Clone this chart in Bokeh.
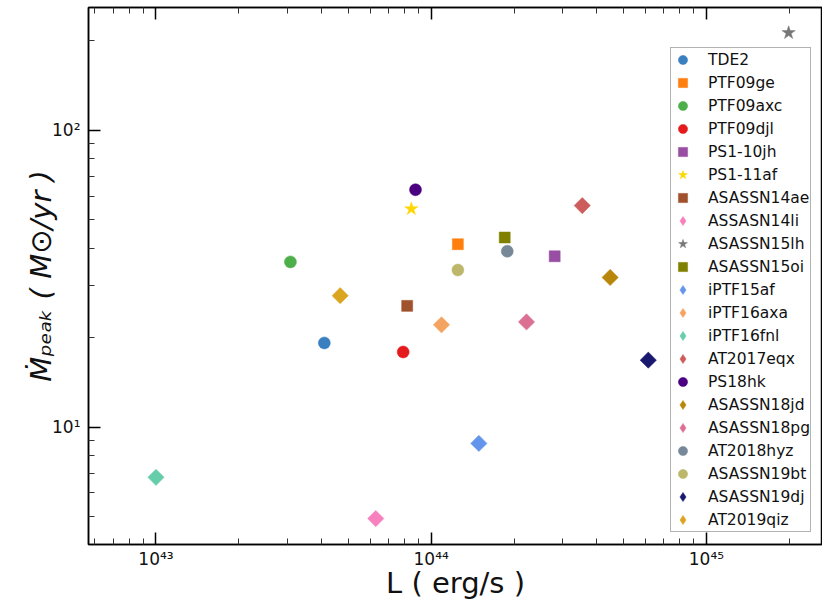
import numpy as np
from bokeh.plotting import figure
from bokeh.models import LogAxis, FixedTicker, CustomJSTickFormatter, Legend, LegendItem
from bokeh.embed import file_html
from bokeh.resources import INLINE

names = ["TDE2", "PTF09ge", "PTF09axc", "PTF09djl", "PS1-10jh", "PS1-11af",
         "ASASSN14ae", "ASSASN14li", "ASASSN15lh", "ASASSN15oi", "iPTF15af",
         "iPTF16axa", "iPTF16fnl", "AT2017eqx", "PS18hk", "ASASSN18jd",
         "ASASSN18pg", "AT2018hyz", "ASASSN19bt", "ASASSN19dj", "AT2019qiz"]
lum = [4.09e43, 1.25e44, 3.08e43, 7.91e43, 2.81e44, 8.47e43,
       8.18e43, 6.29e43, 1.99e45, 1.85e44, 1.49e44,
       1.09e44, 1.00e43, 3.54e44, 8.77e43, 4.47e44,
       2.22e44, 1.89e44, 1.25e44, 6.15e44, 4.67e43]
mdot = [19.2, 41.3, 36.0, 17.9, 37.6, 54.3,
        25.6, 4.92, 212.8, 43.5, 8.81,
        22.1, 6.77, 55.7, 63.0, 31.9,
        22.6, 39.1, 33.8, 16.8, 27.7]
shapes = ["circle", "square", "circle", "circle", "square", "star",
          "square", "diamond", "star", "square", "diamond",
          "diamond", "diamond", "diamond", "circle", "diamond",
          "diamond", "circle", "circle", "diamond", "diamond"]
colors = ["#3a80c0", "#ff7f0e", "#4caf4a", "#e41a1c", "#984ea3", "#ffd700",
          "#a0522d", "#f781bf", "#777777", "#808000", "#6495ed",
          "#f4a460", "#66cdaa", "#cd5c5c", "#4b0082", "#b8860b",
          "#db7093", "#778899", "#bdb76b", "#191970", "#daa520"]

x_decades = [42, 43, 44, 45]
y_decades = [0, 1, 2]

p = figure(width=822, height=602, x_axis_type="log", y_axis_type="log",
           x_range=(5.685e42, 2.642e45), y_range=(4.022, 258.9),
           output_backend="svg", toolbar_location=None,
           min_border_top=7, min_border_right=0, min_border_left=88, min_border_bottom=0)

p.xgrid.visible = False
p.ygrid.visible = False
p.outline_line_color = "black"
p.outline_line_width = 1.5
p.background_fill_color = "white"

def ticker_for(decs):
    majors = [10.0 ** k for k in decs]
    minors = [m * 10.0 ** k for k in decs for m in range(2, 10)]
    return FixedTicker(ticks=majors, minor_ticks=minors)

fmt_js = """
const sup = {"0":"\u2070","1":"\u00b9","2":"\u00b2","3":"\u00b3","4":"\u2074","5":"\u2075","6":"\u2076","7":"\u2077","8":"\u2078","9":"\u2079","-":"\u207b"};
const e = Math.round(Math.log10(tick));
return "10" + String(e).split("").map(c => sup[c]).join("");
"""

def style_axis(ax):
    ax.axis_line_color = "black"
    ax.axis_line_width = 1.5
    ax.major_tick_in = 12
    ax.major_tick_out = 0
    ax.minor_tick_in = 6
    ax.minor_tick_out = 0
    ax.major_tick_line_width = 1.5
    ax.minor_tick_line_width = 1
    ax.major_tick_line_color = "black"
    ax.minor_tick_line_color = "#333333"
    ax.major_label_text_font = "DejaVu Sans"
    ax.major_label_text_font_size = "17px"
    ax.major_label_text_color = "#111111"

xa = p.xaxis[0]
xa.ticker = ticker_for(x_decades)
xa.formatter = CustomJSTickFormatter(code=fmt_js)
style_axis(xa)
xa.major_label_standoff = 4
xa.axis_label = "L ( erg/s )"
xa.axis_label_text_font = "DejaVu Sans"
xa.axis_label_text_font_size = "29px"
xa.axis_label_text_font_style = "normal"
xa.axis_label_text_color = "#111111"
xa.axis_label_standoff = -6

ya = p.yaxis[0]
ya.ticker = ticker_for(y_decades)
ya.formatter = CustomJSTickFormatter(code=fmt_js)
style_axis(ya)
ya.major_label_standoff = 8
ya.axis_label = "\u1e40\u209a\u2091\u2090\u2096 ( M\u2299/yr )"
ya.axis_label_text_font = "DejaVu Sans"
ya.axis_label_text_font_size = "29px"
ya.axis_label_text_font_style = "italic"
ya.axis_label_text_color = "#111111"
ya.axis_label_standoff = -9

top = LogAxis(ticker=ticker_for(x_decades), formatter=CustomJSTickFormatter(code=fmt_js))
style_axis(top)
top.major_label_text_font_size = "1px"
top.major_label_text_color = None
top.major_label_standoff = 0
p.add_layout(top, "above")

items = []
for i in range(len(names)):
    if shapes[i] == "diamond":
        r = p.scatter([lum[i]], [mdot[i]], marker="square", angle=np.pi / 4, size=11.5,
                      fill_color=colors[i], line_color=colors[i], line_width=0.5)
        proxy = p.scatter([lum[i]], [mdot[i]], marker="diamond", size=10,
                          fill_color=colors[i], line_color=colors[i], line_width=0.5)
        items.append(LegendItem(label=names[i], renderers=[proxy]))
        continue
    if shapes[i] == "star":
        r = p.scatter([lum[i]], [mdot[i]], marker="star", size=14,
                      fill_color=colors[i], line_color=colors[i], line_width=0.5)
    elif shapes[i] == "square":
        r = p.scatter([lum[i]], [mdot[i]], marker="square", size=11,
                      fill_color=colors[i], line_color=colors[i], line_width=0.5)
    else:
        r = p.scatter([lum[i]], [mdot[i]], marker="circle", size=12,
                      fill_color=colors[i], line_color=colors[i], line_width=0.5)
    items.append(LegendItem(label=names[i], renderers=[r]))

legend = Legend(items=items, location=(582, 12))
legend.label_text_font = "DejaVu Sans"
legend.label_text_font_size = "15.5px"
legend.label_text_color = "#111111"
legend.glyph_height = 23
legend.glyph_width = 23
legend.label_height = 20
legend.spacing = 0
legend.padding = 0
legend.margin = 0
legend.label_standoff = 14
legend.border_line_color = "#666666"
legend.border_line_width = 1.2
legend.background_fill_color = "white"
legend.background_fill_alpha = 1.0
p.add_layout(legend)

open("out.html", "w").write(file_html(p, INLINE))
